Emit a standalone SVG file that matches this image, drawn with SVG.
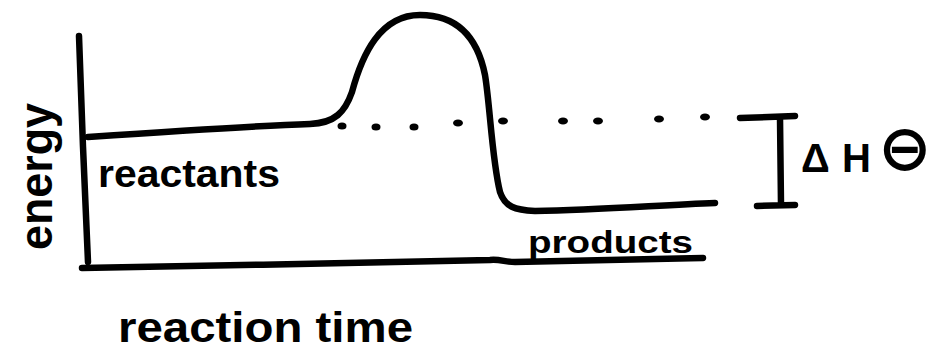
<svg xmlns="http://www.w3.org/2000/svg" width="934" height="352" viewBox="0 0 934 352">
<style>
.ln{fill:none;stroke:#000;stroke-width:6.5;stroke-linecap:round;stroke-linejoin:round}
.t{font-family:"Liberation Sans","DejaVu Sans",sans-serif;font-weight:bold;fill:#000}
.dot{fill:#000}
</style>
<rect width="934" height="352" fill="#fff"/>
<g id="axes">
<path class="ln" d="M 79 36 C 81 100, 85 200, 88 262"/>
<path class="ln" d="M 82 268 C 200 266, 400 262, 490 260 C 500 259, 505 262, 515 262 C 600 260, 650 259, 703 258"/>
</g>
<g id="energy-curve">
<path class="ln" d="M 88 137 Q 250 126 310 124 C 335 123, 345 112, 352 92 C 362 55, 380 15, 420 15 C 460 15, 478 40, 485 75 C 490 105, 492 160, 500 192 C 505 207, 515 210, 535 211 C 600 210, 660 205, 715 203"/>
</g>
<g id="reactant-level">
<ellipse class="dot" cx="342" cy="126" rx="4.5" ry="3.5"/>
<ellipse class="dot" cx="376" cy="127" rx="4.5" ry="3.5"/>
<ellipse class="dot" cx="414" cy="127" rx="4.5" ry="3.5"/>
<ellipse class="dot" cx="458" cy="123" rx="5" ry="3.5"/>
<ellipse class="dot" cx="503" cy="121" rx="5" ry="3.5"/>
<ellipse class="dot" cx="563" cy="121" rx="5" ry="3.5"/>
<ellipse class="dot" cx="598" cy="121" rx="5" ry="3.5"/>
<ellipse class="dot" cx="659" cy="119" rx="5" ry="3.5"/>
<ellipse class="dot" cx="705" cy="117" rx="5" ry="3.5"/>
</g>
<g id="delta-h">
<path class="ln" d="M 740 118 L 795 116 M 780 118 L 781 205 M 757 206 L 795 205"/>
<text class="t" font-size="40"><tspan x="801" y="172">Δ</tspan><tspan x="842" y="172">H</tspan></text>
<text class="t" font-size="64" x="878" y="170" style="font-family:'DejaVu Sans',sans-serif">⊖</text>
</g>
<g id="labels">
<text class="t" transform="translate(52 250) rotate(-90)" font-size="46" textLength="147" lengthAdjust="spacingAndGlyphs">energy</text>
<text class="t" x="98" y="187" font-size="38" textLength="182" lengthAdjust="spacingAndGlyphs">reactants</text>
<text class="t" x="528" y="253" font-size="32" textLength="165" lengthAdjust="spacingAndGlyphs">products</text>
<text class="t" x="118" y="342" font-size="42" textLength="295" lengthAdjust="spacingAndGlyphs">reaction time</text>
</g>
</svg>
